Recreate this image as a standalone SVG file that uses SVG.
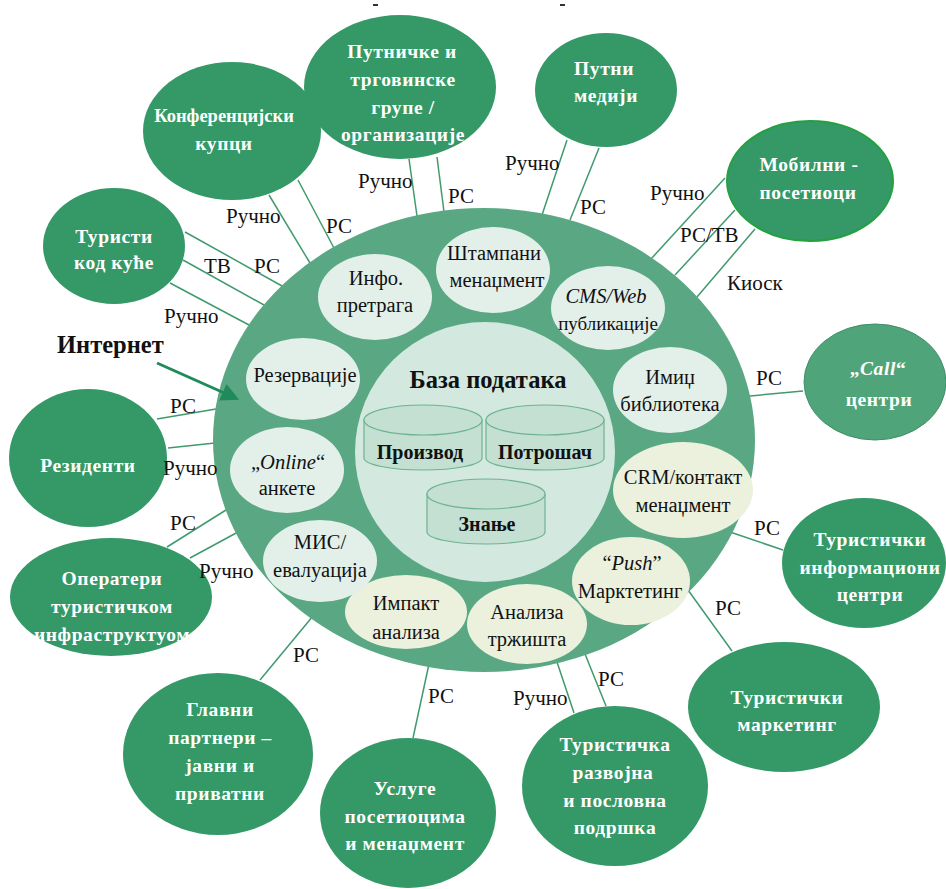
<svg xmlns="http://www.w3.org/2000/svg" width="946" height="889" viewBox="0 0 946 889" font-family="'Liberation Serif','DejaVu Serif',serif">
<defs>
<style>
text{font-family:"Liberation Serif","DejaVu Serif",serif;}
.outer{fill:#349966;}
.conn line{stroke:#3f9a6e;stroke-width:1.5;}
.lbl{font-size:21px;fill:#111;}
.ot{font-size:19.5px;font-weight:bold;fill:#fff;text-anchor:middle;letter-spacing:0.6px;}
.it{font-size:20.5px;fill:#111;text-anchor:middle;}
.lt{fill:#e3f0ea;}
.yl{fill:#ebf1dd;}
.cyl{fill:#c3e0d3;stroke:#6fb292;stroke-width:1.2;}
.ct{font-size:20px;font-weight:bold;fill:#111;text-anchor:middle;}
</style>
<marker id="ah" markerWidth="6" markerHeight="6" refX="3" refY="3" orient="auto" markerUnits="strokeWidth">
<path d="M0,0 L6,3 L0,6 Z" fill="#1f8a5a"/>
</marker>
</defs>
<rect width="946" height="889" fill="#fff"/>
<rect x="373" y="4" width="5" height="2" fill="#333"/>
<rect x="560" y="4" width="5" height="2" fill="#333"/>

<g id="connectors" class="conn">
<line x1="185" y1="232" x2="282" y2="286"/>
<line x1="183" y1="260" x2="264" y2="305"/>
<line x1="170" y1="283" x2="249" y2="325"/>
<line x1="269" y1="195" x2="310" y2="263"/>
<line x1="298" y1="180" x2="335" y2="250"/>
<line x1="409" y1="159" x2="417" y2="216"/>
<line x1="437" y1="157" x2="444" y2="212"/>
<line x1="567" y1="140" x2="542" y2="215"/>
<line x1="599" y1="148" x2="570" y2="220"/>
<line x1="725" y1="178" x2="651" y2="259"/>
<line x1="735" y1="210" x2="675" y2="275"/>
<line x1="755" y1="229" x2="697" y2="297"/>
<line x1="750" y1="396" x2="803" y2="391"/>
<line x1="730" y1="532" x2="783" y2="550"/>
<line x1="688" y1="590" x2="732" y2="651"/>
<line x1="557" y1="662" x2="574" y2="713"/>
<line x1="585" y1="654" x2="606" y2="706"/>
<line x1="429" y1="664" x2="413" y2="738"/>
<line x1="313" y1="616" x2="260" y2="680"/>
<line x1="167" y1="547" x2="226" y2="510"/>
<line x1="190" y1="558" x2="238" y2="532"/>
<line x1="157" y1="419" x2="216" y2="409"/>
<line x1="168" y1="448" x2="215" y2="443"/>
</g>

<g id="ring">
<ellipse cx="484" cy="440" rx="271" ry="232" fill="#5aa883"/>
</g>

<g id="db">
<circle cx="485" cy="452" r="130" fill="#d3e9df"/>
<text class="ct" x="488" y="388" style="font-size:24.5px">База података</text>
<g id="cyl-proizvod">
<path class="cyl" d="M364,420 L364,458 A59,12 0 0 0 482,458 L482,420 Z"/>
<ellipse class="cyl" cx="423" cy="420" rx="59" ry="15"/>
<text class="ct" x="420" y="459">Производ</text>
</g>
<g id="cyl-potrosac">
<path class="cyl" d="M486,420 L486,458 A59,12 0 0 0 604,458 L604,420 Z"/>
<ellipse class="cyl" cx="545" cy="420" rx="59" ry="15"/>
<text class="ct" x="545" y="459">Потрошач</text>
</g>
<g id="cyl-znanje">
<path class="cyl" d="M427,494 L427,532 A59,12 0 0 0 545,532 L545,494 Z"/>
<ellipse class="cyl" cx="486" cy="494" rx="59" ry="15"/>
<text class="ct" x="487" y="531">Знање</text>
</g>
</g>

<g id="info">
<ellipse class="lt" cx="375" cy="297" rx="57" ry="43"/>
<text class="it" x="376" y="285">Инфо.</text>
<text class="it" x="375" y="312">претрага</text>
</g>
<g id="stampani">
<ellipse class="lt" cx="493" cy="270" rx="57" ry="43"/>
<text class="it" x="494" y="260">Штампани</text>
<text class="it" x="497" y="287">менаџмент</text>
</g>
<g id="cms">
<ellipse class="lt" cx="608" cy="308" rx="57" ry="42"/>
<text class="it" x="606" y="303" style="font-style:italic">CMS/Web</text>
<text class="it" x="608" y="330" style="font-size:19px">публикације</text>
</g>
<g id="imidz">
<ellipse class="lt" cx="670" cy="390" rx="57" ry="43"/>
<text class="it" x="670" y="384">Имиџ</text>
<text class="it" x="670" y="411">библиотека</text>
</g>
<g id="crm">
<ellipse class="yl" cx="683" cy="490" rx="70" ry="48"/>
<text class="it" x="683" y="484">CRM/контакт</text>
<text class="it" x="683" y="512">менаџмент</text>
</g>
<g id="push">
<ellipse class="yl" cx="631" cy="581" rx="59" ry="44"/>
<text class="it" x="632" y="570">“<tspan style="font-style:italic">Push</tspan>”</text>
<text class="it" x="630" y="598">Марктетинг</text>
</g>
<g id="trziste">
<ellipse class="yl" cx="527" cy="624" rx="60" ry="40"/>
<text class="it" x="527" y="619">Анализа</text>
<text class="it" x="527" y="646">тржишта</text>
</g>
<g id="impakt">
<ellipse class="yl" cx="406" cy="612" rx="61" ry="37"/>
<text class="it" x="406" y="610">Импакт</text>
<text class="it" x="406" y="639">анализа</text>
</g>
<g id="mis">
<ellipse class="lt" cx="320" cy="561" rx="57" ry="41"/>
<text class="it" x="320" y="549">МИС/</text>
<text class="it" x="320" y="577">евалуација</text>
</g>
<g id="online">
<ellipse class="lt" cx="287" cy="470" rx="57" ry="43"/>
<text class="it" x="288" y="469">„<tspan style="font-style:italic">Online</tspan>“</text>
<text class="it" x="287" y="495">анкете</text>
</g>
<g id="rezervacije">
<ellipse class="lt" cx="303" cy="379" rx="57" ry="41"/>
<text class="it" x="305" y="382">Резервације</text>
</g>

<g id="turisti-kod-kuce">
<ellipse class="outer" cx="114" cy="246" rx="71" ry="58"/>
<text class="ot" x="114" y="243">Туристи</text>
<text class="ot" x="114" y="269">код куће</text>
</g>
<g id="konferencijski">
<ellipse class="outer" cx="232" cy="131" rx="89" ry="69"/>
<text class="ot" x="224" y="122" style="letter-spacing:0;font-size:18.5px">Конференцијски</text>
<text class="ot" x="224" y="150">купци</text>
</g>
<g id="putnicke">
<ellipse class="outer" cx="400" cy="87" rx="96" ry="72"/>
<text class="ot" x="402" y="58">Путничке и</text>
<text class="ot" x="403" y="86">трговинске</text>
<text class="ot" x="403" y="114">групе /</text>
<text class="ot" x="403" y="141">организације</text>
</g>
<g id="putni-mediji">
<ellipse class="outer" cx="606" cy="90" rx="71" ry="57"/>
<text class="ot" x="604" y="75">Путни</text>
<text class="ot" x="606" y="102">медији</text>
</g>
<g id="mobilni">
<ellipse class="outer" cx="810" cy="181" rx="83" ry="60" stroke="#23a140" stroke-width="2"/>
<text class="ot" x="809" y="171">Мобилни -</text>
<text class="ot" x="808" y="199">посетиоци</text>
</g>
<g id="call">
<ellipse cx="875" cy="382" rx="71" ry="58" fill="#4fa579" stroke="#3e8f68" stroke-width="1"/>
<text class="ot" x="878" y="375">„<tspan style="font-style:italic">Call</tspan>“</text>
<text class="ot" x="879" y="406">центри</text>
</g>
<g id="info-centri">
<ellipse class="outer" cx="864" cy="563" rx="82" ry="65"/>
<text class="ot" x="870" y="546">Туристички</text>
<text class="ot" x="870" y="574">информациони</text>
<text class="ot" x="870" y="601">центри</text>
</g>
<g id="marketing">
<ellipse class="outer" cx="784" cy="707" rx="96" ry="65"/>
<text class="ot" x="787" y="704">Туристички</text>
<text class="ot" x="787" y="731">маркетинг</text>
</g>
<g id="razvojna">
<ellipse class="outer" cx="615" cy="786" rx="93" ry="80"/>
<text class="ot" x="615" y="751">Туристичка</text>
<text class="ot" x="613" y="779">развојна</text>
<text class="ot" x="615" y="807">и пословна</text>
<text class="ot" x="615" y="834">подршка</text>
</g>
<g id="usluge">
<ellipse class="outer" cx="408" cy="813" rx="88" ry="75"/>
<text class="ot" x="405" y="795">Услуге</text>
<text class="ot" x="405" y="823">посетиоцима</text>
<text class="ot" x="405" y="850">и менаџмент</text>
</g>
<g id="partneri">
<ellipse class="outer" cx="218" cy="754" rx="95" ry="81"/>
<text class="ot" x="220" y="716">Главни</text>
<text class="ot" x="220" y="744">партнери –</text>
<text class="ot" x="220" y="772">јавни и</text>
<text class="ot" x="220" y="800">приватни</text>
</g>
<g id="operateri">
<ellipse class="outer" cx="111" cy="597" rx="101" ry="59"/>
<text class="ot" x="112" y="585">Оператери</text>
<text class="ot" x="112" y="613">туристичком</text>
<text class="ot" x="112" y="641">инфраструктуом</text>
</g>
<g id="rezidenti">
<ellipse class="outer" cx="88" cy="458" rx="79" ry="69"/>
<text class="ot" x="88" y="472">Резиденти</text>
</g>

<g id="labels" class="lbl">
<text x="204" y="273">ТВ</text>
<text x="254" y="273">РС</text>
<text x="164" y="323">Ручно</text>
<text x="226" y="223">Ручно</text>
<text x="326" y="233">РС</text>
<text x="358" y="188">Ручно</text>
<text x="448" y="203">РС</text>
<text x="505" y="170">Ручно</text>
<text x="580" y="214">РС</text>
<text x="650" y="200">Ручно</text>
<text x="680" y="242">РС/ТВ</text>
<text x="727" y="290">Киоск</text>
<text x="756" y="385">РС</text>
<text x="754" y="535">РС</text>
<text x="715" y="615">РС</text>
<text x="513" y="705">Ручно</text>
<text x="598" y="686">РС</text>
<text x="428" y="703">РС</text>
<text x="293" y="662">РС</text>
<text x="170" y="530">РС</text>
<text x="199" y="578">Ручно</text>
<text x="170" y="413">РС</text>
<text x="163" y="475">Ручно</text>
</g>

<g id="internet">
<text x="57" y="353" style="font-size:24.5px;font-weight:bold" fill="#111">Интернет</text>
<line x1="157" y1="363" x2="231" y2="396" stroke="#1f8a5a" stroke-width="3" marker-end="url(#ah)"/>
</g>
</svg>
